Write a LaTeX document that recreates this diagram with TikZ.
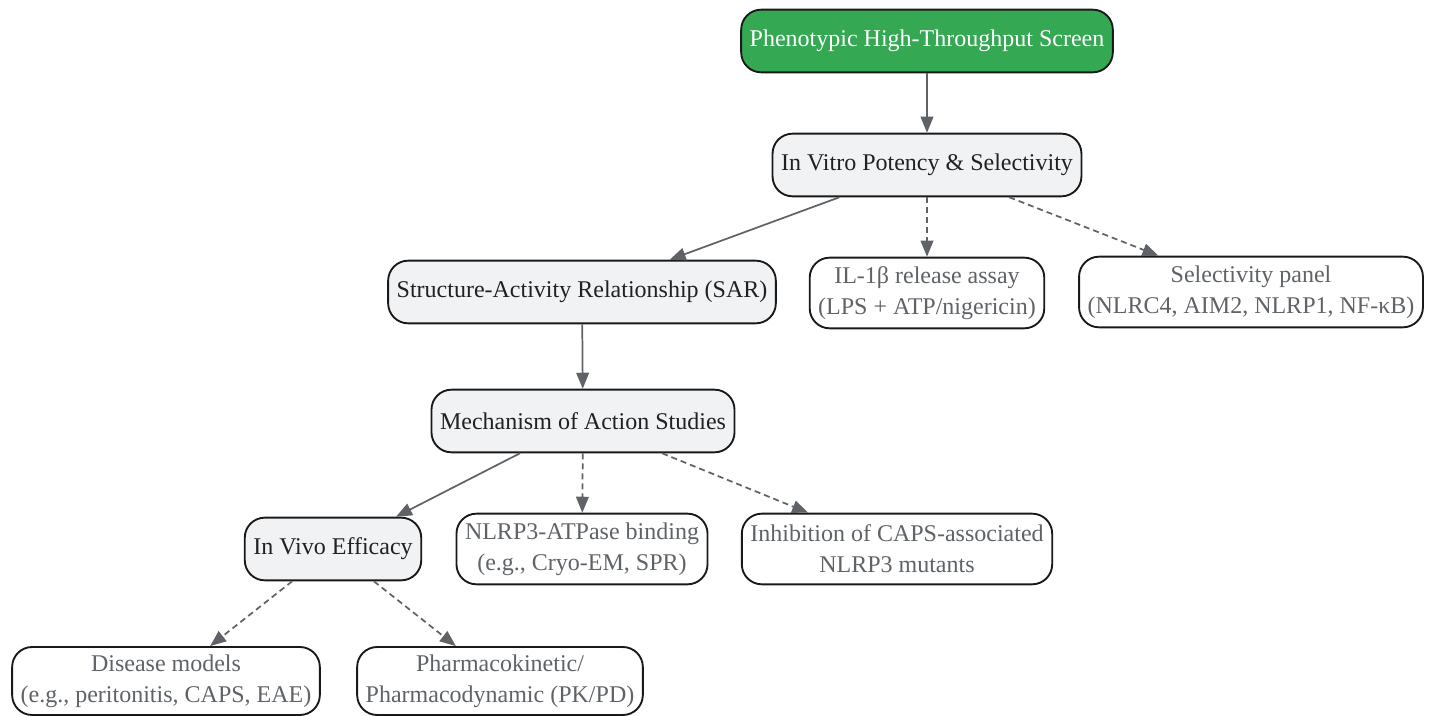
\documentclass[tikz,border=0pt]{standalone}
\usepackage{fontspec}
\setmainfont{Liberation Serif}
\newfontfamily\nodefont{Liberation Serif}
\usetikzlibrary{arrows.meta}
\definecolor{hitgreen}{HTML}{34A853}
\definecolor{stagegray}{HTML}{F1F2F4}
\definecolor{darktext}{HTML}{202124}
\definecolor{softtext}{HTML}{5F6368}
\newcommand{\stagefill}{stagegray}
\newcommand{\assayfill}{white}

\begin{document}
\begin{tikzpicture}[x=0.75pt,y=-0.75pt,
        box/.style={draw=black!90, line width=1.4pt, rounded corners=15pt, align=center,
            inner xsep=6.4pt, font=\nodefont\fontsize{18}{23}\selectfont},
        stage/.style={box, fill=\stagefill, text=darktext, minimum height=47pt},
        assay/.style={box, fill=\assayfill, text=softtext, minimum height=53pt},
        flow/.style={draw=softtext, line width=1.3pt, -{Triangle[length=12pt,width=9.5pt]}},
        side/.style={flow, dash pattern=on 4.5pt off 3pt}]
        \useasboundingbox (0,0) rectangle (1436,716);
        %\draw[help lines] (0,0) grid[step=100] (1436,716);
        \node[stage, fill=hitgreen, text=white] (hts) at (927,41) {Phenotypic High-Throughput Screen};
        \node[stage] (vitro) at (927,165) {In Vitro Potency \& Selectivity};
        \node[stage] (sar) at (582,292) {Structure-Activity Relationship (SAR)};
        \node[assay] (ilb) at (927,293) {IL-1β release assay\\(LPS + ATP/nigericin)};
        \node[assay] (panel) at (1251,292) {Selectivity panel\\(NLRC4, AIM2, NLRP1, NF-κB)};
        \node[stage] (moa) at (583,421) {Mechanism of Action Studies};
        \node[stage] (vivo) at (333,549) {In Vivo Efficacy};
        \node[assay] (atpase) at (582,549) {NLRP3-ATPase binding\\(e.g., Cryo-EM, SPR)};
        \node[assay] (caps) at (897,549) {Inhibition of CAPS-associated\\NLRP3 mutants};
        \node[assay, minimum height=51pt] (disease) at (166,681) {Disease models\\(e.g., peritonitis, CAPS, EAE)};
        \node[assay, minimum height=51pt] (pkpd) at (500,681) {Pharmacokinetic/\\Pharmacodynamic (PK/PD)};
        \draw[flow] (hts) -- (vitro);
        \draw[flow] (vitro) -- (sar);
        \draw[side] (vitro) -- (ilb);
        \draw[side] (vitro) -- (panel);
        \draw[flow] (sar) -- (moa);
        \draw[flow] (moa) -- (vivo);
        \draw[side] (moa) -- (atpase);
        \draw[side] (moa) -- (caps);
        \draw[side] (vivo) -- (disease);
        \draw[side] (vivo) -- (pkpd);
    \end{tikzpicture}
\end{document}
